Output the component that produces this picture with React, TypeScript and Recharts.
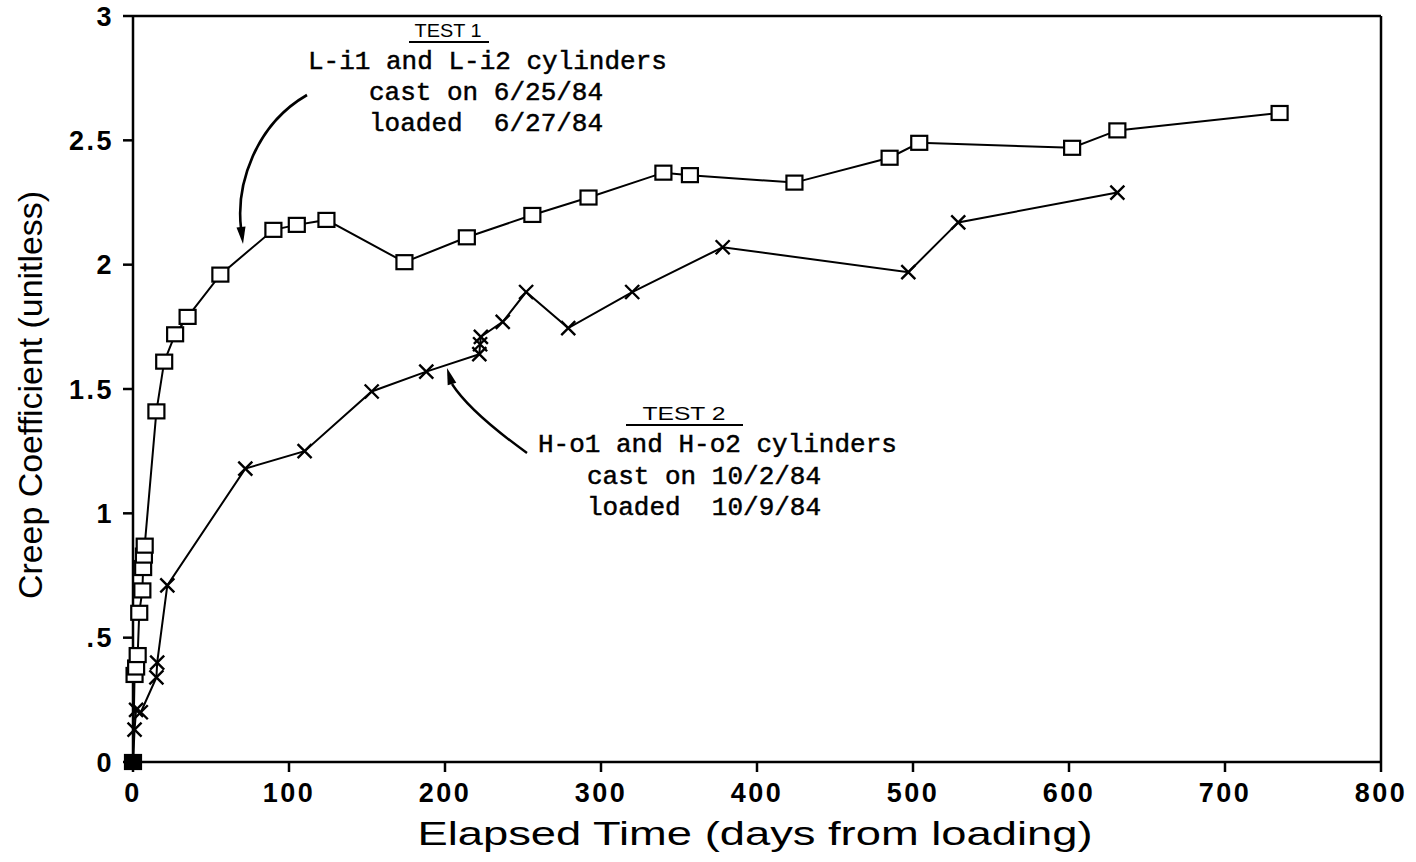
import React from 'react';
import { LineChart, Line, XAxis, YAxis, ReferenceLine, Customized } from 'recharts';

// Test 1: L-i1 and L-i2 cylinders (squares)
const test1Days = [0, 1, 2, 3, 4, 6, 6.5, 7, 7.5, 15, 20, 27, 35, 56, 90, 105, 124, 174, 214, 256, 292, 340, 357, 424, 485, 504, 602, 631, 735];
const test1Coef = [0, 0.35, 0.38, 0.43, 0.6, 0.69, 0.78, 0.83, 0.87, 1.41, 1.61, 1.72, 1.79, 1.96, 2.14, 2.16, 2.18, 2.01, 2.11, 2.2, 2.27, 2.37, 2.36, 2.33, 2.43, 2.49, 2.47, 2.54, 2.61];

// Test 2: H-o1 and H-o2 cylinders (crosses)
const test2Days = [0, 1, 2, 5, 15, 15.5, 22, 72, 110, 153, 188, 222, 222.5, 223, 237, 252, 279, 320, 378, 497, 529, 631];
const test2Coef = [0, 0.13, 0.21, 0.2, 0.34, 0.4, 0.71, 1.18, 1.25, 1.49, 1.57, 1.64, 1.68, 1.71, 1.77, 1.89, 1.745, 1.89, 2.07, 1.97, 2.17, 2.29];

const xTicks = [0, 100, 200, 300, 400, 500, 600, 700, 800];
const yTicks = [0, 0.5, 1, 1.5, 2, 2.5, 3];
const yTickLabels = ['0', '.5', '1', '1.5', '2', '2.5', '3'];

const xTitle = 'Elapsed Time (days from loading)';
const yTitle = 'Creep Coefficient (unitless)';
const test1Title = 'TEST 1';
const test1Lines = ['L-i1 and L-i2 cylinders', 'cast on 6/25/84', 'loaded  6/27/84'];
const test2Title = 'TEST 2';
const test2Lines = ['H-o1 and H-o2 cylinders', 'cast on 10/2/84', 'loaded  10/9/84'];

const test1Data = test1Days.map((d, i) => ({ d, c: test1Coef[i] }));
const test2Data = test2Days.map((d, i) => ({ d, c: test2Coef[i] }));

const INK = '#000';
const tickFont = { fontFamily: "'Liberation Sans', Arial, sans-serif", fontWeight: 700, fontSize: 27, fill: INK, letterSpacing: 2.5 };
const monoFont = "'Liberation Mono', 'DejaVu Sans Mono', monospace";
const monoProps = { fontFamily: monoFont, fontSize: 26, fill: INK, stroke: INK, strokeWidth: 0.5, style: { whiteSpace: 'pre' as const } };

const SquareDot = (props: any) => {
  const { cx, cy, index, payload } = props;
  if (cx == null || cy == null) return <g key={`s-${index}`} />;
  const filled = payload && payload.c === 0;
  return (
    <rect
      key={`s-${index}`}
      x={cx - 8}
      y={cy - 7}
      width={16}
      height={14}
      fill={filled ? INK : '#fff'}
      stroke={INK}
      strokeWidth={2.2}
    />
  );
};

const CrossDot = (props: any) => {
  const { cx, cy, index } = props;
  if (cx == null || cy == null) return <g key={`x-${index}`} />;
  const r = 7;
  return (
    <path
      key={`x-${index}`}
      d={`M${cx - r},${cy - r}L${cx + r},${cy + r}M${cx - r},${cy + r}L${cx + r},${cy - r}`}
      stroke={INK}
      strokeWidth={2.4}
      fill="none"
    />
  );
};

const Annotations = () => (
  <g>
    {/* Test 1 block */}
    <text x={448} y={37} textAnchor="middle" fontFamily="'Liberation Sans', Arial, sans-serif" fontSize={18} textLength={67} lengthAdjust="spacingAndGlyphs" fill={INK}>
      {test1Title}
    </text>
    <line x1={409} x2={489} y1={42} y2={42} stroke={INK} strokeWidth={1.8} />
    <text x={308} y={69} {...monoProps}>{test1Lines[0]}</text>
    <text x={369} y={100} {...monoProps}>{test1Lines[1]}</text>
    <text x={369} y={131} {...monoProps}>{test1Lines[2]}</text>
    <path d="M307,95 C255,125 236,185 241,228" stroke={INK} strokeWidth={2.6} fill="none" />
    <polygon points="243,244 245.5,226.4 236.5,227.6" fill={INK} />

    {/* Test 2 block */}
    <text x={684} y={420} textAnchor="middle" fontFamily="'Liberation Sans', Arial, sans-serif" fontSize={18} textLength={83} lengthAdjust="spacingAndGlyphs" fill={INK}>
      {test2Title}
    </text>
    <line x1={626} x2={743} y1={425} y2={425} stroke={INK} strokeWidth={1.8} />
    <text x={538} y={452} {...monoProps}>{test2Lines[0]}</text>
    <text x={587} y={484} {...monoProps}>{test2Lines[1]}</text>
    <text x={587} y={515} {...monoProps}>{test2Lines[2]}</text>
    <path d="M527,453 Q470,412 452,384" stroke={INK} strokeWidth={2.4} fill="none" />
    <polygon points="447,368 456.3,382.7 447.7,385.3" fill={INK} />

    {/* Axis titles */}
    <text
      x={42}
      y={395}
      transform="rotate(-90 42 395)"
      textAnchor="middle"
      fontFamily="'Liberation Sans', Arial, sans-serif"
      fontSize={34}
      textLength={408}
      lengthAdjust="spacingAndGlyphs"
      fill={INK}
    >
      {yTitle}
    </text>
    <text
      x={755}
      y={845}
      textAnchor="middle"
      fontFamily="'Liberation Sans', Arial, sans-serif"
      fontSize={33}
      textLength={675}
      lengthAdjust="spacingAndGlyphs"
      fill={INK}
    >
      {xTitle}
    </text>
  </g>
);

export default function App() {
  return (
    <div style={{ position: 'absolute', left: 0, top: 0, width: 1416, height: 862, background: '#fff' }}>
      <LineChart width={1416} height={862} margin={{ top: 16, right: 35, bottom: 40, left: 33 }}>
        <XAxis
          dataKey="d"
          type="number"
          domain={[0, 800]}
          ticks={xTicks}
          axisLine={{ stroke: INK, strokeWidth: 2.5 }}
          tickLine={{ stroke: INK, strokeWidth: 2.5 }}
          tickSize={10}
          tickMargin={11}
          tick={tickFont}
          height={60}
          interval={0}
        />
        <YAxis
          dataKey="c"
          type="number"
          domain={[0, 3]}
          ticks={yTicks}
          tickFormatter={(v: number) => yTickLabels[yTicks.indexOf(v)] ?? String(v)}
          axisLine={{ stroke: INK, strokeWidth: 2.5 }}
          tickLine={{ stroke: INK, strokeWidth: 2.5 }}
          tickSize={10}
          tickMargin={9}
          tick={tickFont}
          width={100}
          interval={0}
        />
        <ReferenceLine y={3} stroke={INK} strokeWidth={2.5} />
        <ReferenceLine x={800} stroke={INK} strokeWidth={2.5} />
        <Line
          data={test1Data}
          dataKey="c"
          type="linear"
          stroke={INK}
          strokeWidth={2}
          dot={SquareDot}
          activeDot={false}
          isAnimationActive={false}
        />
        <Line
          data={test2Data}
          dataKey="c"
          type="linear"
          stroke={INK}
          strokeWidth={2}
          dot={CrossDot}
          activeDot={false}
          isAnimationActive={false}
        />
        <Customized component={<Annotations />} />
      </LineChart>
    </div>
  );
}
